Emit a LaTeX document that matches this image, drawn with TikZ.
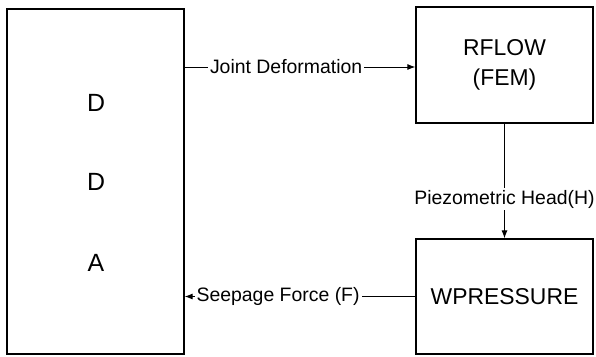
\documentclass[tikz,border=0pt]{standalone}
\usepackage{fontspec}
\setmainfont{Liberation Sans}
\usepackage{tikz}
\usetikzlibrary{arrows.meta,positioning,calc}

\begin{document}
\begin{tikzpicture}[
    x=1bp, y=-1bp,
    >={Latex[length=8bp,width=6bp]},
    module/.style={draw, line width=1.2bp, inner sep=0pt, align=center, font=\fontsize{23}{30}\selectfont},
    letter/.style={font=\fontsize{25}{30}\selectfont},
    flowlabel/.style={fill=white, inner sep=2bp, font=\fontsize{19.5}{22}\selectfont}
]
\useasboundingbox (0,0) rectangle (596,356);

\node[module, minimum width=177bp, minimum height=345bp] (dda) at (95.5,181.5) {};
\node[letter] (dd1) at (96,103) {D};
\node[letter] (dd2) at (96,182) {D};
\node[letter] (dd3) at (96,263) {A};

\node[module, minimum width=177bp, minimum height=116bp] (rflow) at (504.5,65) {RFLOW\\(FEM)};
\node[module, minimum width=177bp, minimum height=115bp] (wpres) at (504.5,296.5) {WPRESSURE};

\coordinate (jd) at (dda.east |- 0,67);
\draw[->, line width=1bp] (jd) -- node[flowlabel, pos=0.44] {Joint Deformation} (rflow.west |- jd);
\draw[->, line width=1bp] (rflow.south) -- node[flowlabel, pos=0.66] {Piezometric Head(H)} (wpres.north);
\draw[->, line width=1bp] (wpres.west) -- node[flowlabel, pos=0.595] {Seepage Force (F)} (dda.east |- wpres.west);
\end{tikzpicture}
\end{document}
